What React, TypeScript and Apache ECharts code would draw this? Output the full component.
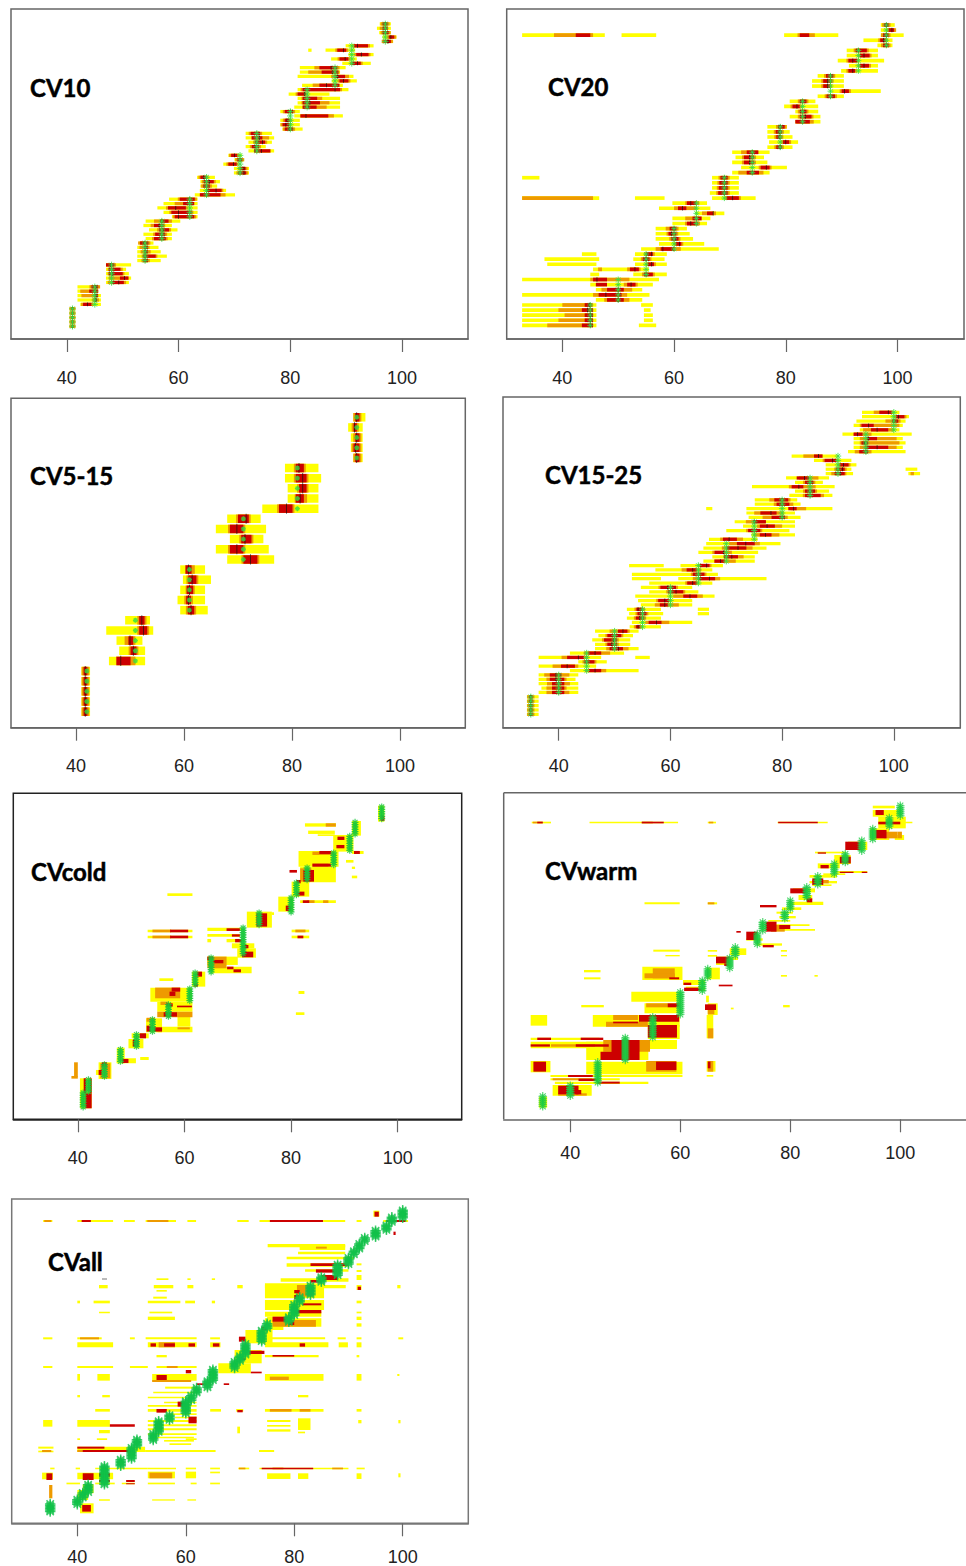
import React, { useEffect, useRef } from "react";
import * as echarts from "echarts";

const tickValues = [40, 60, 80, 100];
const panelNames = ["CV10", "CV20", "CV5-15", "CV15-25", "CVcold", "CVwarm", "CVall"];

// Row tuple: yellow from, yellow to, red from, red to, true value, median, [orange from, orange to]
const cv10Rows = [
  [40.5,41.5,40.8,41.2,41,41],[40.5,41.5,40.8,41.2,41,41],[40.5,41.5,40.8,41.2,41,41],[40.5,41.5,40.8,41.2,41,41],[40.5,41.5,40.8,41.2,41,41],
  [42.4,46.1,42.9,44.4,45,43.7],[41.9,46.1,44.9,45.4,45,45.2],[41.9,46.1,44.9,45.6,45,45.2,42.6,44.9],[41.9,45.6,44,45.6,45,45,42.4,45.6],[41.9,45.6,44.4,45.6,45,45.2],
  [47,51.1,48,50.2,48,49.3,47.3,50.6],[47,51.5,49.5,51,48,50.3,47.5,51.1],[47,51.1,47.5,50,48,48.2,47.3,50.3],[47,50.6,47.5,49.6,48,48,47.3,50],[47,51.5,47,48.5,48,47.8,47,48.8],
  [52.6,56.8,53.7,54.5,54,54],[52.6,57.9,53.7,55.9,54,54,53.4,56.2],[52.6,56.8,53.8,54.5,54,54,53.2,55],[52.6,56.4,53.8,54.5,54,54,53,54.8],[53,55.5,53.1,54.6,54,53.8],
  [54.1,58.8,55.6,57.7,57,57],[53.7,58.8,55.8,57.6,57,57],[54.7,59.8,56.5,58.3,57,57.2],[53.7,58.8,55.6,57.3,57,56.5,55,57.6],[54.1,60.3,56.7,58.2,57,57,55.6,58.8],
  [58.8,63.4,59.3,62.8,62,60],[57.3,63.4,58.7,62.3,62,60],[56.2,63.4,58.1,61.3,62,59.5],[57.3,63.4,60.8,62.8,62,62,59.3,60.8],[58.3,63.4,60.2,62.9,62,62],
  [62.9,70.1,63.8,67.5,65,65,63.9,68.4],[63.8,68.5,65,67.7,65,66.7,64.9,68],[63.9,66.9,64.4,65.6,65,65],[63.9,67.4,64.5,66.3,65,65.5],[63.3,66.5,63.9,65,65,64.5],
  [69.9,72.6,70.7,72.1,71,71.7],[69.9,72.6,71,72,71,71.7],[68,70.5,68.9,70.4,71,69.8],[70,71.6,70.5,71.4,71,71],[68.9,71.3,69.4,70.5,71,70],
  [72.5,77.1,73.5,76.4,74,74.8,73.5,76.5],[72,75.6,73.1,74.4,74,73.7],[72.5,76.7,73.7,75.5,74,75],[72,77.1,73.1,75,74,74.5,73,76.2],[72,76.7,72.9,74.6,74,74],
  [78.6,82.2,79,80.5,80,79.8],[78.2,81.7,78.6,79.8,80,79.2],[78.2,81.7,79,79.9,80,79.4],[80.7,89.4,81.8,86.8,80,82.8,81.8,87.8],[78.2,81.7,79,80.5,80,80],
  [80.7,88.9,82.2,84.7,83,83.2,82.2,86.5],[81.3,88.9,82.2,85.3,83,83.5,82,87],[81.3,88.9,82.2,84.8,83,83,82,85.7],[79.7,87,81.3,82.8,83,82.5],[81.3,90.4,82.2,88.9,83,88],
  [82.1,89.4,85.2,88.8,88,86.5,84,88.4],[87.4,91.9,88.8,90.4,88,89.5],[81.3,91.3,87.9,89.8,88,88.5,87.3,90.5],[81.7,88.9,85.6,88.6,88,87.5,83.2,88.8],[81.7,89.9,85.2,88.4,88,87.3,84.3,88.8],
  [89.3,94.4,91,92.6,91,92],[87.3,91.9,88.8,90.4,91,89.8],[90.4,94.9,91.8,94,91,92.7],[86.3,91.6,88.4,90,91,89.5],[89.9,94.9,91.4,93.9,91,92],
  [96.5,98.4,96.7,98,97,97.5],[96.5,99,97.6,98.6,97,98],[95.9,98,96.5,97.6,97,97],[95.5,98,96.5,97.4,97,97,96,97.5],[96,98,96.5,97.4,97,97],
];
const cv10ExtraYellow = [[64,83.2,83.8]];

const cv20Rows = [
  [32.8,46.1,43.5,45.5,45,45,37.3,45.5],[32.8,46.1,44,45.5,45,45,39.3,45.5],[32.8,46.1,44,45.5,45,45,40.4,45.5],[32.8,46.1,43.5,45.5,45,44.5,39.3,45.5],[32.8,46.1,44,45.2,45,44.8,40,45.5],
  [46,54.3,48,51,50,50,47.5,52],[32.8,55.6,46.5,50.6,50,47.8,45.5,51.6],[46,54.3,48,51,50,50,47,52.5],[45,56.2,51.6,53.1,50,52.3,51,53.5],[32.8,57.3,45.5,48,50,46.2,45,52],
  [52.7,58.7,54.6,56.2,55,55],[45.5,55.5,52.1,53.7,55,53,51.6,54],[53,58.7,55.3,56.4,55,56],[52.7,58.3,54.4,55.6,55,55],[53,58.7,55,56.2,55,56],
  [54.1,68,57.6,60.1,60,58,56.7,61.2],[57.3,65.4,60.3,61.3,60,61],[56.7,63.4,59.5,60.8,60,60.3],[56.7,62.8,59,60.4,60,59.5],[56.7,62.3,59.2,60.4,60,60,58.5,60.8],
  [59.7,65.9,62.3,64.3,64,63],[59.7,66.5,63.3,64.9,64,64,62,65],[63.8,69,65.9,67,64,67,65,67.5],[57.3,66.5,60.7,62.2,64,61.5,60,64],[59.7,65.9,62.3,64,64,63,62,64.5],
  [66.8,74.6,69.4,71.6,69,70.5],[66.4,71.6,67.9,69.6,69,69],[66.8,71.6,68,69.6,69,69],[66.8,71.6,68.1,69.6,69,69],[66.8,71.6,68.3,69.6,69,69],
  [70.4,77.1,73,75.2,74,74,71.5,76],[72,80.2,75.5,77.1,74,76.5],[70.4,76.7,72.5,74.3,74,73.5],[71,76.1,72.5,74.3,74,73.5],[70.4,77.1,73,75.1,74,74,72,75],
  [76.7,81.2,78.3,79.3,79,79],[77,82.2,79.5,80.6,79,80],[76.7,81.2,78.3,79.2,79,78.8],[76.7,80.7,78.2,79.3,79,78.8],[76.7,80.2,78.6,79.8,79,79],
  [81.7,86.2,81.7,84.3,83,83,81.9,85],[80.7,86.2,82.5,84.6,83,83.5],[81.7,85.8,82.5,83.7,83,83],[79.7,85.8,81.2,82.5,83,82],[80.7,85.3,82.5,83.7,83,83],
  [85.7,90.4,87.3,88.8,88,88],[88.2,97,90,91.3,88,90.5],[84.7,90.4,86.7,87.9,88,87.5],[84.7,90.4,86.7,88.2,88,87.5],[85.7,90.4,87.2,88.5,88,88],
  [89.9,96.5,91.2,92.4,93,92],[91.3,96.5,93.3,94.9,93,94],[89.3,97.6,91.2,92.8,93,92],[90.9,96.5,93.3,95,93,94],[90.9,96.5,92.5,94.5,93,93],
  [96.4,99.1,97.4,98.4,98,98],[93.9,99.1,96.9,97.9,98,97.5],[97,101.1,97.4,98.4,98,98],[97,99.6,98.4,99.4,98,99],[97,99.5,97.6,98.4,98,98],
];
const cv20ExtraYellow = [[1,53.7,56.8],[2,54.6,56.2],[3,54.6,56.2],[4,54.6,55.8],[5,54.1,56.2],[11,45,46.6],[13,37.3,46.1],[14,36.8,46.6],[15,43.5,46.1],[26,32.8,46.6],[26,53,58.3],[30,32.8,35.9],[58,32.8,47.6],[58,50.6,56.8],[58,79.7,89.4]];
const cv20ExtraOrange = [[12,46.4,47.1],[26,32.8,45.5],[58,38.5,45.5],[58,82.1,85.2]];
const cv20ExtraRed = [[9,46,48],[58,42.4,45],[58,82.5,84.2]];

const cv515Rows = [
  [41,42.6,41.4,42.1,42,41.7],[41,42.6,41.4,42.1,42,41.7],[41,42.6,41.4,42.1,42,41.7],[41,42.6,41.4,42.1,42,41.7],[41,42.6,41.4,42.1,42,41.7],
  [46.1,52.8,47.5,50.1,51,48.3,47.4,51],[48,52.8,50.1,51.2,51,50.6],[47.5,52.3,49.7,50.6,51,50,49,51],[45.6,54.3,51.7,53.2,51,52.5],[49.1,53.7,51.7,52.7,51,52.2],
  [59.3,64.4,60.7,61.9,61,61.3],[58.8,63.9,60.4,61.3,61,60.8],[59.3,63.9,60.5,61.7,61,61,60.3,62],[59.8,65,60.8,62.3,61,61.5],[59.3,63.9,60.3,61.4,61,60.8,60.2,62],
  [68,76.7,71,73.6,71,72.3],[65.9,75.7,68.5,71,71,69.8],[68.5,74.7,70.6,72.5,71,71.3],[65.9,75.2,68.5,71,71,69.8],[68,74.2,70,72,71,71.5],
  [74.5,84.9,77.6,80.1,81,79],[79.2,84.9,80.7,82.2,81,81.5,80.5,82.8],[79.2,84.9,81.3,82.7,81,82],[78.7,85.4,80.7,82.7,81,82],[78.7,84.9,80.7,82.2,81,81.3],
  [91.4,93.1,91.7,92.5,92,92],[90.9,93.1,91.4,92.5,92,91.8],[90.9,93.1,91.7,92.5,92,92],[90.4,93.1,91.4,92,92,91.6],[91.4,93.6,91.7,92.5,92,92],
];

const cv1525Rows = [
  [34.3,36.4,34.7,35.3,35,35],[34.3,36.4,34.7,35.3,35,35],[34.3,36.4,34.7,35.3,35,35],[34.3,36.4,34.7,35.3,35,35],[34.3,36.4,34.7,35.3,35,35],
  [36.4,43.5,38.8,41,40,40,37.8,41.9],[36.9,43.5,38.8,41,40,40,37.8,41.4],[36.4,43.5,38.8,41,40,40,37.9,42],[36.4,43,38.4,41,40,39.5,37.8,41.4],[36.4,43.5,38.4,40.5,40,39.5,37.4,41.9],
  [42,54.3,45.4,47.6,45,46.5,44.7,48.5],[36.4,46.7,40.4,42.9,45,41.5,38.9,43.5],[43.5,48.6,44.6,46.4,45,45],[36.4,47.6,41.5,44.5,45,43.5,40.5,45.3],[42,51.7,45.3,47.6,45,46.5,44.5,49.2],
  [46.5,54.3,49.1,51.5,50,50.7,48.5,52.5],[46.5,52.8,48.7,50.4,50,49.5],[46,52.8,48.1,50.4,50,49.8],[47.1,53.3,48.7,51.2,50,50],[46.5,54.3,50.6,52.3,50,51.5,49.1,52.7],
  [52.7,58.3,53.8,54.6,55,54.2],[53.1,63.9,56.1,58.4,55,57.5,55.5,59.8],[52.2,58.3,53.8,55.3,55,54.5],[52.6,58.7,54.1,55.7,55,55],[52.2,58.3,53.9,55.1,55,54.2],
  [54.7,63.9,58.1,59.6,60,59,57.2,61.5],[54.2,63.9,57.8,59.7,60,59],[53.7,67.9,62.3,64.8,60,63.5,60.5,65.8],[56.2,65,59.6,62.3,60,61],[54.7,63.9,58.2,61,60,59.5],
  [56.2,67.5,63,64.7,65,64],[61.4,77.2,65,68,65,67,64,68.9],[53.1,68.5,64,66.1,65,65],[57.3,67.5,62.9,64.7,65,64,62,65.5],[61.8,69.4,65.3,67,65,66.5],
  [65.9,75.1,67.9,69.7,70,69,67.8,71.7],[67.5,75.1,69.6,72.1,70,71,69.5,73.1],[65,75.7,67.9,69.7,70,69.5,67.5,71],[65.9,77.2,70,73.6,70,72.1,69.2,74.7],[66.4,79.7,71.9,75.1,70,73.5,70.5,76],
  [66.9,75.6,69.4,71.9,75,70.5,68.9,73],[74.5,82.3,76,78.1,75,77,75,79.5],[70,81.3,73.9,76.1,75,75],[73,82.3,76,78.7,75,77.3,75.5,80],[71.5,82.3,74.8,77.1,75,75,73.5,77],
  [74,83.3,78.1,80.5,80,80,76.5,81],[73.6,82.3,76.1,79,80,78,75,80.3],[73.6,89,81.1,82.6,80,82,81.5,84.3],[75.1,83.3,79,81.3,80,80,78.5,82],[75.1,82.7,78.6,81.1,80,80,77.7,81.5],
  [81.3,89,84.1,86.9,85,85,83.7,87.5],[82.3,88.4,84.1,85.9,85,85],[74.6,89.4,81.7,83.8,85,83,81.2,86],[82.3,87.3,84.1,85.6,85,85],[80.7,88.4,82.6,84.8,85,84,83,86.5],
  [87.8,92.7,89.4,91.2,90,90.5,88.8,91.5],[87.8,92.4,89.7,91.2,90,90.8],[87.8,93.3,90.3,91.9,90,91],[85.7,92.4,87.6,89.7,90,89],[81.7,89.9,85.7,87.2,90,86.5,83.8,87.3],
  [91.8,102.1,93.8,95.4,95,95,93,96],[92.8,101.6,94.8,99,95,97,93.9,100.5],[92.8,102.1,94.2,95.4,95,94.8,93.9,101],[92.8,101.6,95.1,97,95,95.5,93.9,100.5],[90.8,103.2,92.8,94.4,95,93.5,92.8,96],
  [93.9,101,95.9,99,100,97,94.5,100],[92.8,101.6,94.2,96.4,100,95.5,93.9,101],[93.3,102.1,99.7,100.8,100,100,98.5,101.2],[94.3,102.7,100.4,101.9,100,100.8],[94.3,101,97.4,99.6,100,99,96.4,99.9],
];
const cv1525ExtraYellow = [[14,53.7,56.3],[24,64.9,66.9],[25,64.9,66.9],[32,53.1,58.3],[35,52.6,58.8],[48,66.4,67.5],[56,102.6,104.7],[57,102.1,104.2]];
const cv1525ExtraOrange = [[56,103,103.6]];

// Dense panels. Band: rank from, rank to (counted downward from the top), x from, x to
const coldYellow = [
  [88,97,40.4,42.6],[83.2,88.2,43.9,46.3],[85.5,87,43.4,46.2],[78.8,83.5,47.3,48.8],[82,83.5,47.3,50.9],[81.6,82.5,51.7,53.3],
  [76.2,79,49.5,52.3],[74.5,76,50.1,53.3],[70,74.2,52.8,55.8],[72.5,74.2,55,61.5],[69.5,72.5,58.7,61.1],[65,68,54.9,61.5],[60.8,65,53.6,61.4],
  [58,58.8,55.3,57.9],[56,60.5,61.4,63.9],[51.5,54,64.3,70],[54.5,56.5,65,72.6],[42.8,43.8,64.3,70.8],[44.7,45.5,64.3,70.4],[46.2,47.2,64.3,65],[46.2,47.2,67.9,70.8],
  [47.5,49,68.9,73.1],[49,51.8,69.9,73.4],[38,42.8,71.7,76.4],[38.2,39,76.4,76.8],[43.4,44.2,53.1,61.5],[45.2,46,53.1,61.5],[43.4,44.2,80.1,83.4],[45.2,46,80.1,83.4],
  [32.5,33.3,56.8,61.5],[33.5,38,77.6,80.4],[34.6,35.4,81.7,88.4],[29,33.5,80.1,83.4],[24.5,29.2,81.7,88.4],[19.8,24.5,81.4,88.9],[15,20,87.9,91.7],[10.8,15.2,91.4,93.1],
  [11.5,12.5,82.6,88.4],[13.7,14.7,83.2,88.2],[14.8,15.3,85,88.2],[6.2,11,96.3,97.5],[24.5,25.2,91.4,92],[27.2,28,91.4,92.4],[22.5,23.3,90.3,91.7],[61.8,62.7,81.4,82.5],[68.2,69,80.9,82.5],[19.8,20.7,91.4,93.6],
];
const coldOrange = [
  [83.2,87.5,39.3,40],[87.3,88.1,38.8,40],[83.5,88,44.2,46.1],[69.8,71,52.9,54.5],[72.7,73.3,58.7,61],[68,69.7,54.9,61.5],[60.8,64,54.5,59.2],[65,66,55.5,57],[51.5,55,64.3,67.9],
  [43.4,44.2,54,57.5],[45.2,46,54,57.5],[43.4,44.2,80.8,82.7],[25,29,81.7,83.8],[20,21,84,88],[23.6,24.5,84,87],[11.5,12.5,86.5,88.4],[34.6,35.4,83,84.4],[34.6,35.4,86,87],
];
const coldRed = [
  [92.5,97,41.4,42.6],[88,92.5,41.1,41.6],[88,92.5,42.2,42.6],[85.5,87,43.9,44.5],[83.2,84.5,44.5,45.4],[82.2,83.4,48.3,49.5],[74.5,76,51.6,52.8],[76.5,78.5,50.3,51.4],
  [72.2,74,52.9,53.8],[72.7,74,54.2,55.8],[68.2,69.5,56.1,58.6],[65.5,66.5,56.6,57.8],[66.2,66.7,58.6,61.4],[60.8,62,57.6,59.2],[62,63.3,57.2,58.3],[56,57.5,62.3,63.3],[59.5,60.5,61.8,62.5],
  [51.5,52.5,64.3,65.4],[52.5,53.5,65.4,67.3],[54.5,55.3,68,69.2],[55.3,56.2,69.2,70.6],[43,43.8,67.9,70.4],[44.8,45.5,68.9,70.4],[46.2,47.2,69.5,70.8],[48,49,70.8,72],[50,51.7,70.8,72.9],
  [38.5,42.5,73.5,75.5],[43.4,44.2,57.3,60.7],[45.2,46,57.3,60.7],[45.2,46,81.2,82.3],[36.2,37.8,79,80],[34.6,35.4,82.2,83.4],[32,33.2,81,82.5],[28.5,29.5,81,81.8],[25.5,29,82.3,84.3],[25.5,26.3,79.7,81.1],
  [23.6,24.5,84,87.5],[19.8,20.7,85.3,87.5],[15.5,16.5,88.7,90],[18,19,88.5,90],[19.8,20.7,91.8,92.9],[9.2,10.8,96.8,97.5],
];
// Star group: true value, rank from, rank to
const coldStars = [[41,92,97],[42,88,92.5],[45,83.5,88],[48,79,83.5],[51,74.5,79],[54,70,74.5],[57,65.5,70],[61,60.8,65.2],[62,56,60.5],[65,51.5,56.5],[71,42.5,51.5],[74,38,42.5],[80,33.5,38.5],[81,29,33.5],[83,24.5,29],[88,20,24.7],[91,15,20],[92,10.8,15.3],[97,6.2,11]];

const warmYellow = [
  [93.5,96.8,34.3,35.8],[90,93.2,36.8,43.9],[87,87.6,36.4,60.4],[88,88.6,36.4,49],[89,89.7,37.2,54.2],[83,86.8,42.9,60.4],[82.8,86.2,32.8,36.4],[82.8,86,64.8,66.4],[87,87.5,64.8,66],
  [77,82.5,42.9,54.2],[75.8,76.5,32.8,45.3],[77,79,32.8,47.5],[76.5,79.2,54.1,59.4],[69,76,64.8,66],[72,76.2,54.1,59.9],[69,72.5,44.1,59.9],[69,72.2,32.8,35.8],[65.5,68.5,53.5,59.9],[62,65,51.1,59.9],
  [66,66.7,42,46.1],[65.5,69,65,66.8],[63.2,65.2,64.7,65.2],[66,66.7,78.7,79.9],[66.8,67.3,69.2,69.7],[54.5,58.5,53.1,60.4],[54.8,58.3,64.8,67.2],[55.5,56.2,42.5,45.5],[57.7,58.3,42.5,45.5],
  [57,57.5,78.3,79.4],[57,57.5,84.4,85],[49.4,50,55.1,59.9],[51,51.4,57.3,59.9],[49.5,50,65,66.7],[51,51.5,65,66.7],[49.5,50,78.3,79.4],[51,51.4,78.3,79.4],[35.2,35.8,53.5,59.9],[35.2,35.8,65,66.7],
  [11,11.5,33,36.5],[11,11.5,43.5,59.6],[11,11.5,65,66.5],[11,11.5,77.7,86.8],[58.5,60,60.5,64.5],[60.5,61.8,61,64.5],
  [53,54,66.5,69],[51.5,52.5,66.5,70.5],[49,51,69,72],[46,46.7,72,75],[47.5,48.2,74,78.5],[41.8,42.3,75.5,83.5],[43.2,43.7,75.5,84.5],[40.5,41,76,80],[38,38.6,77.5,80.5],[39.3,40,78,81],[36.7,37.5,78.5,82],[35,36,80,86],
  [31,32.2,80.5,84.5],[33,34.5,81.5,84],[27,27.8,83.5,88.5],[28.8,29.5,83.5,88.5],[29.8,30.3,84,87.5],[23.5,25,85,89],[25.8,26.4,88,94],[26.5,27,86,90],[20,20.5,84.5,90],[21,23.7,88,91],
  [17,19.5,90.5,94],[13,16.5,94.5,98],[15,16.5,99,100.7],[9.5,13,96,101],[11,11.5,96,102.2],[7.5,9.5,95,100.2],[6.2,7,95,99],
];
const warmOrange = [
  [92.5,93.2,37.8,43],[88,88.6,36.8,44],[82.8,86,53.8,59.3],[82.8,86,65,66],[76.5,80,46,54.5],[73,76,65,66],[69,70.5,47.8,52.3],[71,72.5,46.5,54.1],[65.5,66.7,53.8,57.7],[66.5,68.8,65,66.2],
  [55,58,55,59],[56.5,58,53.5,59],[77.8,78.5,36.5,44.5],[11,11.5,33.2,35],[11,11.5,53,55],[11,11.5,65.2,66],[35.2,35.8,65,66.2],[42,44,76.5,79],[28.5,29.5,84,87],[14,16,97,99.5],[14,16,99.5,100.3],
];
const warmRed = [
  [90.2,92.8,37.8,41.5],[91.5,92.8,41,42],[87,87.6,39.6,44.1],[88.1,88.8,41.5,45],[89,89.6,45,49],[83,85.5,55.6,59.3],[83,86,33.3,35.6],[83,85,65,65.5],[76.5,82.5,47.5,52.6],[80,82.5,45.5,52],
  [75.8,76.5,34,36.5],[75.8,76.5,41.9,46],[77.8,78.5,32.8,36.3],[77.8,78.5,41,47],[72,75.8,54.1,59.4],[69,71,52.5,59.8],[71,71.5,47.8,52.3],[65.5,66.7,57.7,59.9],[65.8,67.5,64.5,66.5],
  [59.3,60,60.6,62],[60.8,61.8,60.7,64],[59.9,60.4,67,69.5],[57.7,58.3,58,59.8],[51.5,53.5,66.5,69],[53.5,54.3,68,69],[44,46.5,72,74],[43.8,44.3,70.2,71],[48,48.7,75,77],[41,44,75.5,77.5],[42,43.2,78,80],
  [36,36.7,74.5,77.5],[34,35.2,83,84],[31,32.5,80,83],[28,30,84,86],[24,25,85.5,87],[26,26.4,89,91.5],[26,26.4,93,94],[20.2,20.6,85,86.5],[21.5,23.5,89,91],[17,19.5,90,93],[13.5,16,95.5,97.5],[7.5,9,95.5,97],[11,11.5,77.8,85],[11,11.5,53,57],[11,11.5,34,35],[11,11.8,96,100],
];
const warmStars = [[35,93,97],[40,89.8,93.8],[45,82.8,90],[50,75.5,83],[55,69.3,76.2],[60,61.8,69.2],[64,58.3,62.2],[65,54.8,58.3],[69,51.5,55.3],[70,48.3,51.5],[74,44.3,48.3],[75,40.8,44.3],[79,37.8,40.8],[80,34.3,37.8],[83,30.3,34.3],[85,27,30.5],[88,23.2,27],[90,20.3,23.7],[93,16.3,20.3],[95,12.8,16.5],[98,9.5,13],[100,5.8,9.5]];

const allYellow = [
  [9,9.6,33.7,35.4],[9,9.6,40,46.6],[9,9.6,48.6,50.6],[9,9.6,52.6,58.2],[9,9.6,60.3,61.9],[9,9.6,69.5,71.6],[9,9.6,73.6,89.4],[9,9.6,91.5,92.4],[9,9.6,96.4,101],[6.2,8,94.6,95.7],
  [16.2,17.2,75.1,89.4],[16.5,18,81,89.4],[18.5,19.3,80.7,89.4],[20,20.8,78.6,91],[22,23,78.6,90],[23.8,24.5,82,90],[26.5,27.5,77.5,90],[28.5,29.5,74.6,89.5],[28,32.5,74.6,85.5],[33,36,74.6,85.5],[36.5,38,74.6,85],[38.5,41,74.6,85],
  [22,22.6,91.5,92.4],[24,24.6,91.5,92.4],[25.5,27,91.5,92.4],[28.5,30,91.5,92.4],[28.5,29.5,44,45.6],[28.5,29.5,54.1,57.7],[28.5,29.5,60.3,61.4],[28.5,29.5,69.5,70.5],[28.5,29.5,99,99.6],[26.5,27,54.6,56.8],[26.5,27,60.3,60.9],[26.5,27,64.8,65.4],[30,30.5,54.6,56.5],
  [32,32.6,54,56.5],[33.2,34,40,40.5],[33.2,34,43,46],[33.2,34,53,59],[33.2,34,59.9,61.7],[33.2,34,64.8,65.4],[33.2,34,91.5,92.4],[36.5,37,44,46],[36.5,37,53.3,57.5],[36.5,37,91.5,92.4],[38,39,53,58],[38,39,91.5,92.4],[40,41,91.5,92.4],
  [44.2,44.8,33.7,35.4],[44.2,44.8,40,44.5],[44.2,44.8,49.7,50.6],[44.2,44.8,52.6,62],[44.2,44.8,64.5,66.3],[44.2,44.8,74.9,85.7],[44.2,44.8,88,89.5],[44.2,44.8,91.5,92.4],[44.2,44.8,99.2,100.1],
  [45.7,47.2,40,46.6],[45.7,47.2,53,62],[45.7,47.2,64.5,66.4],[45.7,47.2,74.6,86.3],[45.7,47.2,88.2,89.9],[45.7,47.2,91.5,92.4],[49.5,50.2,54.6,56.5],[49.5,50.2,74.6,84.5],[49.5,50.2,91.5,92],
  [52.8,53.4,33.7,35.4],[52.8,53.4,40,46.6],[52.8,53.4,49.7,53],[52.8,53.4,54.6,62],[55.2,57.2,40,40.5],[55.2,57.2,43.7,46],[55.2,57.2,53.8,62],[55.2,57.2,74.6,85.4],[55.2,57.2,91.5,92.4],[55.2,55.8,99,99.4],
  [61.5,62.2,40,40.5],[61.5,62.2,44.6,46],[61.5,62.2,80.7,82.6],[65.7,66.5,43.3,46],[65.7,66.5,53,62],[65.7,66.5,64.5,66.5],[65.7,66.5,69.3,70.6],[65.7,66.5,74.6,85.4],[65.7,66.5,91.5,92.4],
  [69,71,40,46],[69,71,33.7,35.4],[69,69.6,53,62],[70.3,70.9,53,62],[71.5,72.1,53,62],[69,69.6,75,79.3],[70.5,71,75,79.3],[71.8,72.5,75,79.3],[68.5,72,80.7,83],[69,70,91.8,92.4],[69,70,99.2,99.6],[71,73,69.5,70],[72.5,73,80.7,82],[72,73,44,46],[74.5,75,40,40.5],[74.5,75,43.6,45.5],[74.5,75,60,62],
  [77,77.6,32.8,35.6],[78.2,78.7,32.8,35.6],[77,78.6,40,52.5],[78,78.6,52.5,65.5],[78,78.6,73.5,76.3],[83.3,83.8,35,35.8],[83.3,83.8,39.7,40.5],[83.3,83.8,43.3,53],[83.3,83.8,53,58.2],[83.3,83.8,60,61.9],[83.3,83.8,64.5,66.3],[83.3,83.8,69.7,71.7],[83.3,83.8,73.6,90],[83.3,83.8,91.5,93],
  [84.8,86.8,33.5,35.5],[84.8,86.8,40,46.6],[84.5,86.5,53,58],[84.5,86.5,60,61.9],[84.5,85,64.5,66.3],[85,86.7,75,79.3],[85,86.7,80.7,82.6],[85,86.7,91.5,92.4],[85,86.2,99.2,99.6],
  [87.8,88.3,38,40.5],[87.8,88.3,43.3,46.9],[87.8,88.3,48.2,50.6],[87.8,88.3,53,58],[87.8,88.3,60.9,62],[87.8,88.3,64.5,66.3],[92.8,93.2,44,46],[92.8,93.2,53.8,58],[92.8,93.2,60.3,61.9],[94,97,40.5,43],
  [59,59.6,56.2,62],[60.5,61,54,62],[62,62.5,53,60],[63.5,64,56,62],[64.5,65,53,62],[67,67.5,57,62],[68,68.5,58,62],[73,73.5,53,62],[74,74.5,54,61.5],[75,75.5,56,61.5],[76,76.5,57,61],[88.3,91,41,43],[90,93,40,42],[52,55,66,72],[48,52,69,74],[42,46,71,76],[38,42,75,78],
];
const allOrange = [
  [9,9.6,33.9,35.2],[9,9.6,52.9,56.8],[44.2,44.8,40.5,44],[83.3,83.8,76,78],[83.3,83.8,87,89],[83.3,83.8,69.8,71],[84.8,86.5,53.3,57.5],[88.5,92.5,34.8,35.4],[78,78.6,33.5,35.2],[78,78.6,40,47],[65.7,66.5,75.5,79.5],[65.7,66.5,81,83],[56,57,75.5,79],[28.5,32,80.5,83.5],[39,41,76,84],[52.8,53.4,56.5,58.5],[17,17.6,84,86],[45.7,47.2,55,58],[57,57.6,53.8,61],
];
const allRed = [
  [9,9.6,40.8,42.5],[9,9.6,75.5,85.3],[9,9.6,97,100.5],[6.5,8,94.8,95.6],[12.5,13.5,98.3,98.7],[22,22.8,83,90],[23.8,24.8,84,88],[25.5,27,85,88],[27,27.8,83,85],[29,30,91.7,92.3],[30,31,80,81],[31.5,32.8,80,81],
  [34,34.6,81.5,85],[36,37,80,85],[38,39.5,76,79.5],[39.5,40.5,79,80],[41,42,74,75],[44,45.5,69.8,71],[46,47,53.5,54.5],[46,47,56,58],[46,47,60.5,61.7],[46,47,65,66.2],[46,47,81,82],[48.2,49.2,71.7,74.5],[49.5,50,76,80],
  [55.5,57,54.6,56.5],[54,55,60,61],[58,58.5,62,64],[58,58.5,67,68],[54.5,55,72,74],[65.7,66.8,54.6,56.5],[63.5,65,58.5,60],[66,66.7,69.5,70.5],[70.3,71,46,50.6],[77,77.6,40,45],[78,78.6,41,50],[83.3,83.8,74,83.5],[85,87,34.3,35.4],[85,87,41,43],[85,86,44,46],[87,87.6,44,46],[87,87.6,49,50.6],[88,88.3,49,50.6],[88.5,90,41.5,42.5],[94.5,96.5,40.9,42.5],[68,70,60.5,62],[50.5,51,69.8,71],
];
const allStars = [[35,93.8,97.2],[40,92.5,95],[41,90.5,93],[42,88,91],[45,82.5,89],[48,80.5,83.2],[50,77,81.2],[51,74.5,77.2],[54,72.8,75.5],[55,69,73],[57,67.2,69.5],[60,63,67.5],[61,61.3,63.5],[62,59,61.5],[64,57,59.8],[65,53.5,57.5],[69,51.2,53.8],[70,49.5,51.8],[71,45.8,49.8],[74,41.8,46],[75,39.7,42],[79,37.8,40],[80,34,38],[81,31.8,34],[83,28.3,32],[85,25.8,28],[88,22,26.2],[90,20,22.5],[91,18,20],[92,15.8,18.2],[93,14,16],[95,11.8,14.5],[97,10.2,12.5],[98,7.8,10.2],[100,5.7,8.7]];

const C = { yellow: "#ffff00", orange: "#ee9a00", red: "#cc0000", black: "#111111" };
const STAR = "path://M0 -1L0 1M-1 0L1 0M-0.7 -0.7L0.7 0.7M-0.7 0.7L0.7 -0.7";

const layout = [
  { box: [11, 9, 468, 339], min: 30, max: 111.8, ymin: -1.9, ymax: 73.4, title: [30, 87], border: "#666", labelY: 378, open: false },
  { box: [506.7, 9, 964, 339], min: 30.04, max: 111.9, ymin: -1.68, ymax: 63.14, title: [548, 86], border: "#666", labelY: 378, open: false },
  { box: [11, 398.3, 465.3, 727.7], min: 27.96, max: 112.1, ymin: -0.58, ymax: 31.87, title: [30, 475], border: "#666", labelY: 766, open: false },
  { box: [503, 397, 960.3, 727.7], min: 30.02, max: 111.9, ymin: -2.05, ymax: 73.5, title: [545, 474], border: "#666", labelY: 766, open: false },
  { box: [13.3, 793.3, 461.7, 1119.3], min: 27.9, max: 112, ymin: 2.5, ymax: 100.3, title: [31, 871], border: "#222", labelY: 1158, open: false },
  { box: [503.7, 792.7, 966, 1119.3], min: 27.9, max: 111.95, ymin: 2.3, ymax: 100.3, title: [545, 870], border: "#666", labelY: 1153, open: true },
  { box: [11.7, 1199, 468.3, 1523.3], min: 27.9, max: 112.1, ymin: 2.7, ymax: 100, title: [48, 1261], border: "#777", labelY: 1557, open: false },
];

type Band = number[];

function fromRows(rows: number[][], h: number, ey: number[][] = [], eo: number[][] = [], er: number[][] = []) {
  const band = (r: number, a: number, b: number): Band => [r - h / 2, r + h / 2, a, b];
  const yellow: Band[] = [], orange: Band[] = [], red: Band[] = [], black: Band[] = [], stars: number[][] = [];
  rows.forEach((row, i) => {
    const r = i + 1;
    const [y0, y1, r0, r1, t, m, o0, o1] = row;
    yellow.push(band(r, y0, y1));
    orange.push(band(r, o0 ?? r0 - 0.35, o1 ?? r1 + 0.35));
    red.push(band(r, r0, r1));
    black.push([r - h / 2 - 0.08, r + h / 2 + 0.08, m - 0.06, m + 0.06]);
    stars.push([t, r]);
  });
  ey.forEach(([r, a, b]) => yellow.push(band(r, a, b)));
  eo.forEach(([r, a, b]) => orange.push(band(r, a, b)));
  er.forEach(([r, a, b]) => red.push(band(r, a, b)));
  return { yellow, orange, red, black, stars };
}

function fromDense(yellow: Band[], orange: Band[], red: Band[], groups: number[][], step: number) {
  const stars: number[][] = [];
  groups.forEach(([t, a, b]) => {
    for (let r = a + 0.4; r <= b - 0.3; r += step) stars.push([t, r]);
  });
  return { yellow, orange, red, black: [] as Band[], stars };
}

const panels = [
  { ...fromRows(cv10Rows, 0.74, cv10ExtraYellow), inverse: false, star: 6.5, starColor: "#35e045", starWidth: 1 },
  { ...fromRows(cv20Rows, 0.72, cv20ExtraYellow, cv20ExtraOrange, cv20ExtraRed), inverse: false, star: 6, starColor: "#35e045", starWidth: 1 },
  { ...fromRows(cv515Rows, 0.84, [], []), inverse: false, star: 5, starColor: "#30e040", starWidth: 1.3 },
  { ...fromRows(cv1525Rows, 0.74, cv1525ExtraYellow, cv1525ExtraOrange), inverse: false, star: 6.5, starColor: "#35e045", starWidth: 1 },
  { ...fromDense(coldYellow, coldOrange, coldRed, coldStars, 0.7), inverse: true, star: 7, starColor: "#18c83c", starWidth: 1.2 },
  { ...fromDense(warmYellow, warmOrange, warmRed, warmStars, 0.6), inverse: true, star: 8.5, starColor: "#1ccc44", starWidth: 1.1 },
  { ...fromDense(allYellow, allOrange, allRed, allStars, 0.45), inverse: true, star: 10.5, starColor: "#10c048", starWidth: 1.5 },
];

function bandSeries(data: Band[], color: string, idx: number) {
  return {
    type: "custom",
    xAxisIndex: idx,
    yAxisIndex: idx,
    silent: true,
    data,
    encode: { x: [2, 3], y: [0, 1] },
    renderItem: (_: unknown, api: any) => {
      const a = api.coord([api.value(2), api.value(0)]);
      const b = api.coord([api.value(3), api.value(1)]);
      return {
        type: "rect",
        shape: { x: Math.min(a[0], b[0]), y: Math.min(a[1], b[1]), width: Math.abs(b[0] - a[0]), height: Math.abs(b[1] - a[1]) },
        style: { fill: color },
      };
    },
  };
}

export default function App() {
  const ref = useRef<HTMLDivElement>(null);
  useEffect(() => {
    document.body.style.margin = "0";
    const chart = echarts.init(ref.current!, null, { renderer: "svg" });
    const grid = layout.map((l) => ({
      left: l.box[0],
      top: l.box[1],
      width: l.box[2] - l.box[0],
      height: l.box[3] - l.box[1],
      show: true,
      borderColor: l.border,
      borderWidth: l.open ? 0 : 1.5,
      backgroundColor: "#fff",
    }));
    const xAxis = layout.map((l, i) => ({
      type: "value",
      gridIndex: i,
      min: l.min,
      max: l.max,
      position: "bottom",
      splitLine: { show: false },
      axisLine: { show: true, onZero: false, lineStyle: { color: l.border, width: 1.5 } },
      axisTick: { show: true, length: 13, customValues: tickValues, lineStyle: { color: "#666", width: 1.2 } },
      axisLabel: {
        show: true,
        customValues: tickValues,
        margin: l.labelY - l.box[3] - 9,
        color: "#222",
        fontSize: 18,
        fontFamily: "'Liberation Sans', sans-serif",
        hideOverlap: false,
      },
    }));
    const yAxis = layout.map((l, i) => ({
      type: "value",
      gridIndex: i,
      min: l.ymin,
      max: l.ymax,
      inverse: panels[i].inverse,
      show: false,
      splitLine: { show: false },
    }));
    const series: any[] = [];
    panels.forEach((p, i) => {
      series.push(bandSeries(p.yellow, C.yellow, i));
      series.push(bandSeries(p.orange, C.orange, i));
      series.push(bandSeries(p.red, C.red, i));
      if (p.black.length) series.push(bandSeries(p.black, C.black, i));
      series.push({
        type: "scatter",
        xAxisIndex: i,
        yAxisIndex: i,
        silent: true,
        data: p.stars,
        symbol: STAR,
        symbolSize: p.star,
        itemStyle: { color: "transparent", borderColor: p.starColor, borderWidth: p.starWidth },
      });
    });
    const graphic: any[] = layout.map((l, i) => ({
      type: "text",
      x: l.title[0],
      y: l.title[1],
      z: 100,
      style: {
        text: panelNames[i],
        font: "bold 24px Lato, 'Open Sans', sans-serif",
        fill: "#000",
        stroke: "#000",
        lineWidth: 0.5,
        textVerticalAlign: "middle",
      },
    }));
    graphic.push({ type: "line", z: 100, shape: { x1: 102, y1: 1279, x2: 107, y2: 1279 }, style: { stroke: "#777", lineWidth: 1 } });
    const warm = layout[5].box;
    graphic.push({ type: "line", z: 100, shape: { x1: warm[0], y1: warm[1], x2: warm[2], y2: warm[1] }, style: { stroke: "#666", lineWidth: 1.5 } });
    graphic.push({ type: "line", z: 100, shape: { x1: warm[0], y1: warm[1], x2: warm[0], y2: warm[3] }, style: { stroke: "#666", lineWidth: 1.5 } });
    chart.setOption({ animation: false, backgroundColor: "#fff", grid, xAxis, yAxis, series, graphic });
    return () => chart.dispose();
  }, []);
  return <div ref={ref} style={{ position: "absolute", left: 0, top: 0, width: 966, height: 1566 }} />;
}
